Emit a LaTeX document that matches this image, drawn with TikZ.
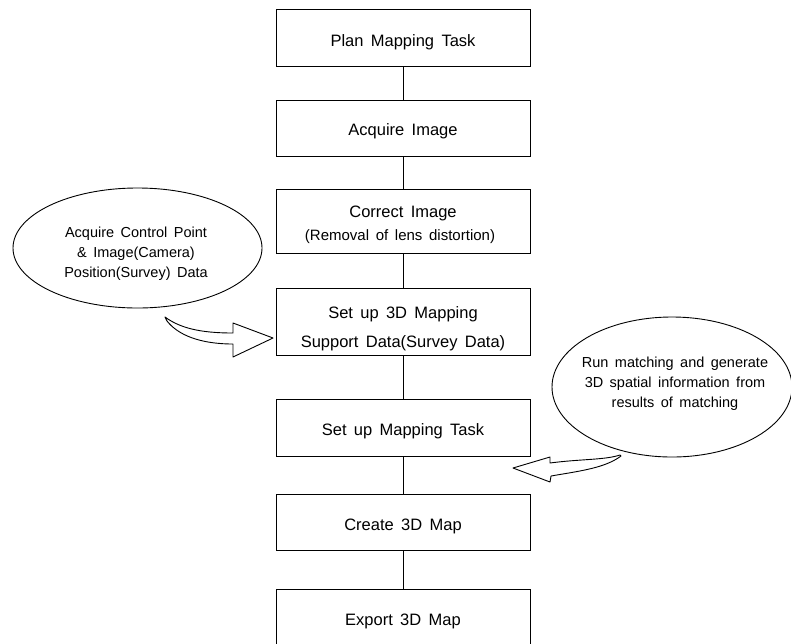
\documentclass[tikz,border=0pt]{standalone}
\usepackage{fontspec}
\setmainfont{Liberation Sans}[WordSpace=1.6]
\usetikzlibrary{shapes.geometric}
\tikzset{
  stepbox/.style={draw, line width=0.9pt, minimum width=254pt, inner sep=0pt},
  boxtxt/.style={anchor=base, inner sep=0pt, font=\fontsize{16.5}{20}\selectfont},
  smalltxt/.style={anchor=base, inner sep=0pt, font=\fontsize{15}{18}\selectfont},
  elltxt/.style={anchor=base, inner sep=0pt, font=\fontsize{14.5}{18}\selectfont},
  bubble/.style={ellipse, draw, line width=0.9pt, inner sep=0pt},
  link/.style={line width=0.9pt},
  blockarrow/.style={draw, line width=0.9pt, fill=white, line join=round}
}
\begin{document}
\begin{tikzpicture}[x=1pt,y=-1pt]
\useasboundingbox (0,0) rectangle (791,643);
\clip (0,0) rectangle (791,643);
\fill[white] (0,0) rectangle (791,643);

% boxes
\node[stepbox, minimum height=57pt] (b1) at (403,37.5) {};
\node[stepbox, minimum height=56pt] (b2) at (403,128) {};
\node[stepbox, minimum height=64pt] (b3) at (403,221) {};
\node[stepbox, minimum height=67pt] (b4) at (403,321.5) {};
\node[stepbox, minimum height=57pt] (b5) at (403,427.5) {};
\node[stepbox, minimum height=56pt] (b6) at (403,522) {};
\node[stepbox, minimum height=58pt] (b7) at (403,618) {};

% box texts
\node[boxtxt] (t1) at (403,46) {Plan Mapping Task};
\node[boxtxt] (t2) at (403,135) {Acquire Image};
\node[boxtxt] (t3a) at (403,217) {Correct Image};
\node[smalltxt] (t3b) at (400,240) {(Removal of lens distortion)};
\node[boxtxt] (t4a) at (403,318) {Set up 3D Mapping};
\node[boxtxt] (t4b) at (403,347) {Support Data(Survey Data)};
\node[boxtxt] (t5) at (403,435) {Set up Mapping Task};
\node[boxtxt] (t6) at (403,530) {Create 3D Map};
\node[boxtxt] (t7) at (403,625) {Export 3D Map};

% connectors
\draw[link] (b1.south) -- (b2.north);
\draw[link] (b2.south) -- (b3.north);
\draw[link] (b3.south) -- (b4.north);
\draw[link] (b4.south) -- (b5.north);
\draw[link] (b5.south) -- (b6.north);
\draw[link] (b6.south) -- (b7.north);

% left bubble
\node[bubble, minimum width=249pt, minimum height=120pt] (e1) at (137.5,248) {};
\node[elltxt] (e1a) at (136,237) {Acquire Control Point};
\node[elltxt] (e1b) at (136,257) {\& Image(Camera)};
\node[elltxt] (e1c) at (136,277) {Position(Survey) Data};

% right bubble
\node[bubble, minimum width=240pt, minimum height=140pt] (e2) at (672,387) {};
\node[elltxt] (e2a) at (675,367) {Run matching and generate};
\node[elltxt] (e2b) at (675,387) {3D spatial information from};
\node[elltxt] (e2c) at (675,407) {results of matching};

% left block arrow
\draw[blockarrow] (165,317) .. controls (180,328) and (200,333) .. (233,333)
  -- (233,323) -- (273,338) -- (233,357) -- (233,344)
  .. controls (200,344) and (178,335) .. (167,321) -- cycle;

% right block arrow
\draw[blockarrow] (620,455) .. controls (605,460) and (580,459) .. (550,463)
  -- (550,457) -- (513,468) -- (550,482) -- (551,476)
  .. controls (580,471) and (605,468) .. (621,456) -- cycle;
\end{tikzpicture}
\end{document}
